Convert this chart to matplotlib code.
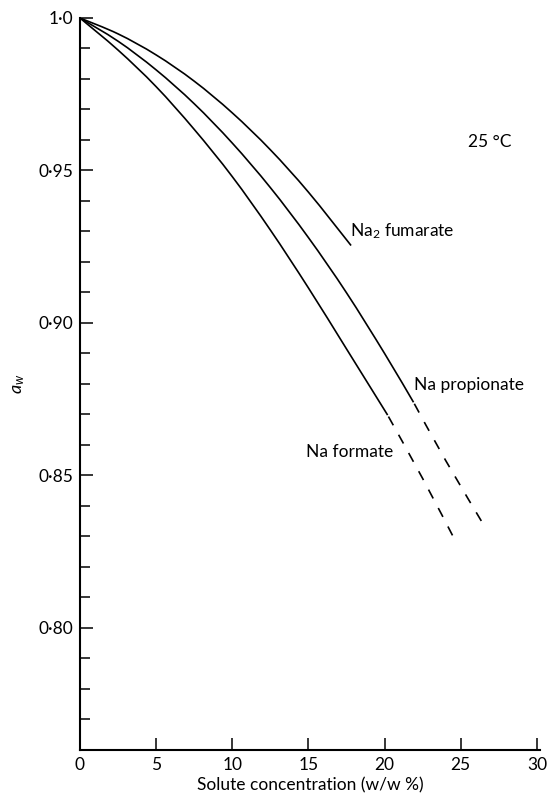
import matplotlib
matplotlib.use("Agg")
import matplotlib.pyplot as plt
from matplotlib.ticker import MultipleLocator, FixedLocator
from matplotlib.path import Path
from matplotlib.patches import PathPatch

plt.rcParams['font.family'] = ['Lato', 'DejaVu Sans']
plt.rcParams['mathtext.fontset'] = 'custom'
plt.rcParams['mathtext.it'] = 'Lato:italic'
plt.rcParams['mathtext.rm'] = 'Lato'

# Water activity of sodium salt solutions at 25 °C
fumarate_x = [0, 2.5, 5, 7.5, 10, 12.5, 15, 17.8]
fumarate_aw = [1.0, 0.9948, 0.9879, 0.9793, 0.9689, 0.9568, 0.9429, 0.9254]

propionate_x = [0, 2.5, 5, 7.5, 10, 12.5, 15, 17.5, 20, 21.9]
propionate_aw = [1.0, 0.9924, 0.983, 0.9719, 0.959, 0.9444, 0.928, 0.9099, 0.890, 0.874]
propionate_ext_x = [21.9, 24.0, 26.6]
propionate_ext_aw = [0.874, 0.855, 0.833]

formate_x = [0, 2.5, 5, 7.5, 10, 12.5, 15, 17.5, 20.2]
formate_aw = [1.0, 0.9895, 0.9775, 0.9635, 0.948, 0.9305, 0.9115, 0.8915, 0.8698]
formate_ext_x = [20.2, 22.5, 24.6]
formate_ext_aw = [0.8698, 0.849, 0.829]

x_ticks = [0, 5, 10, 15, 20, 25, 30]
y_ticks = [0.80, 0.85, 0.90, 0.95, 1.0]
y_tick_labels = ['0·80', '0·85', '0·90', '0·95', '1·0']

fig = plt.figure(figsize=(5.51, 7.96), dpi=100)
ax = fig.add_axes([0.145, 0.0578, 0.835, 0.9196])
ax.set_xlim(0, 30.2)
ax.set_ylim(0.76, 1.0)


def smooth_curve(ax, xs, ys, **style):
    """Draw a smooth curve through the points (Catmull-Rom as cubic Beziers,
    built in display space so the shape is independent of axis scaling)."""
    pts = ax.transData.transform(list(zip(xs, ys)))
    n = len(pts)
    verts = [pts[0]]
    codes = [Path.MOVETO]
    for i in range(n - 1):
        p0 = pts[i - 1] if i > 0 else pts[i]
        p1 = pts[i]
        p2 = pts[i + 1]
        p3 = pts[i + 2] if i + 2 < n else pts[i + 1]
        c1 = p1 + (p2 - p0) / 6.0
        c2 = p2 - (p3 - p1) / 6.0
        verts += [c1, c2, p2]
        codes += [Path.CURVE4] * 3
    path = Path(verts, codes)
    patch = PathPatch(path, facecolor='none', edgecolor='black',
                      transform=None, **style)
    patch.set_clip_path(ax.patch)
    ax.add_artist(patch)


lw = 1.2
smooth_curve(ax, fumarate_x, fumarate_aw, lw=lw)
smooth_curve(ax, propionate_x, propionate_aw, lw=lw)
smooth_curve(ax, formate_x, formate_aw, lw=lw)
smooth_curve(ax, propionate_ext_x, propionate_ext_aw, lw=lw,
             linestyle=(-1, (6, 6.5)), capstyle='butt')
smooth_curve(ax, formate_ext_x, formate_ext_aw, lw=lw,
             linestyle=(-1, (6, 6.5)), capstyle='butt')

for side in ('top', 'right'):
    ax.spines[side].set_visible(False)
for side in ('left', 'bottom'):
    ax.spines[side].set_linewidth(1.5)

ax.xaxis.set_major_locator(FixedLocator(x_ticks))
ax.set_xticklabels([str(v) for v in x_ticks])
ax.yaxis.set_major_locator(FixedLocator(y_ticks))
ax.set_yticklabels(y_tick_labels)
ax.yaxis.set_minor_locator(MultipleLocator(0.01))

ax.tick_params(axis='both', which='major', direction='in', length=9,
               width=1.1, labelsize=12.5, pad=5)
ax.tick_params(axis='y', which='minor', direction='in', length=7, width=1.1)

ax.set_xlabel('Solute concentration (w/w %)', fontsize=12.5, labelpad=3)
ax.set_ylabel(r'$a_w$', fontsize=13, labelpad=8)

ax.text(25.5, 0.9593, '25 °C', fontsize=12.5, va='center', ha='left')
ax.text(17.7, 0.930, r'Na$_2$ fumarate', fontsize=12.5, va='center', ha='left')
ax.text(21.9, 0.8797, 'Na propionate', fontsize=12.5, va='center', ha='left')
ax.text(14.85, 0.8577, 'Na formate', fontsize=12.5, va='center', ha='left')

fig.savefig('out.png', dpi=100)
